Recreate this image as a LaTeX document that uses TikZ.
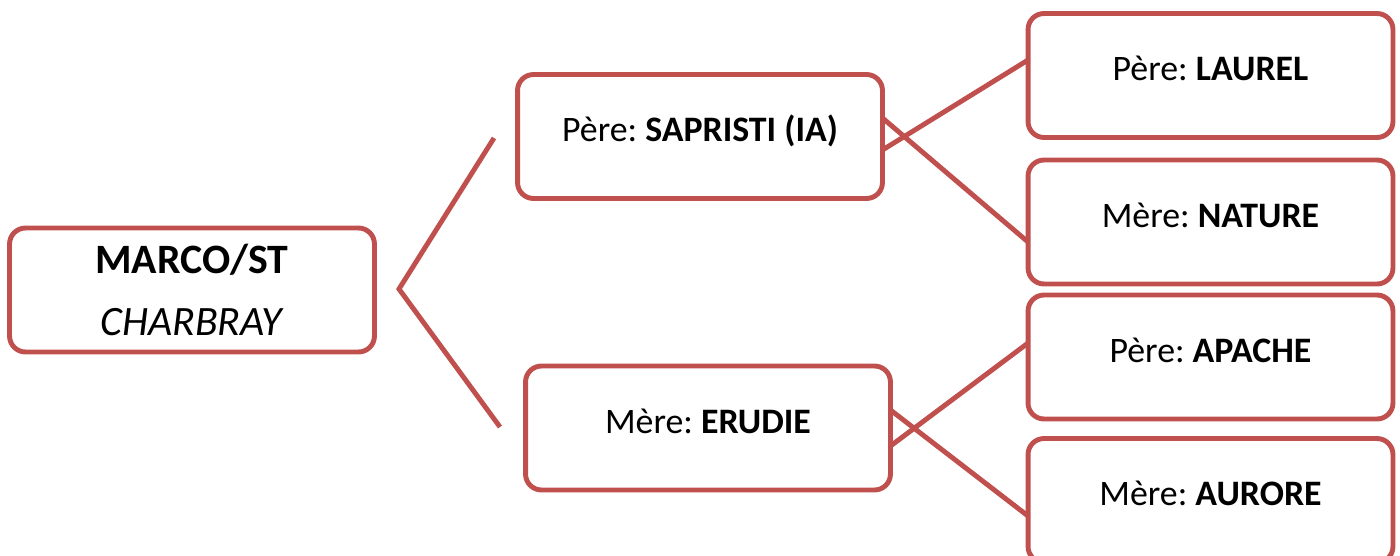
\documentclass[tikz,border=0pt]{standalone}
\usepackage{fontspec}
\setmainfont{Carlito}
\frenchspacing
\definecolor{pedigree}{HTML}{C0504D}

\begin{document}
\begin{tikzpicture}[x=0.02cm,y=-0.02cm,
  box/.style={draw=pedigree,line width=2.8pt,rounded corners=0.32cm,
    minimum width=7.3cm,minimum height=2.48cm,inner sep=0pt,outer sep=0pt},
  horse/.style={box,font=\fontsize{20.4}{24}\selectfont,
    text height=0.46cm,text depth=0.26cm},
  link/.style={draw=pedigree,line width=2.8pt}]
\useasboundingbox (0,0) rectangle (1400,555);
\node[box,align=center,font=\fontsize{23.8}{35}\selectfont] (marco) at (192,290) {\textbf{MARCO/ST}\\\textit{CHARBRAY}} ;
\node[horse] (sapristi) at (700,136.5) {Père: \textbf{SAPRISTI (IA)}} ;
\node[horse] (erudie) at (708,428) {Mère: \textbf{ERUDIE}} ;
\node[horse] (laurel) at (1210.5,75.5) {Père: \textbf{LAUREL}} ;
\node[horse] (nature) at (1210.5,222) {Mère: \textbf{NATURE}} ;
\node[horse] (apache) at (1210.5,357) {Père: \textbf{APACHE}} ;
\node[horse] (aurore) at (1210.5,500.5) {Mère: \textbf{AURORE}} ;
\coordinate (fork) at (399,289) ;
\coordinate (forkup) at (494,138) ;
\coordinate (forkdown) at (500,427) ;
\draw[link] (forkup) -- (fork) -- (forkdown) ;
\draw[link] ([yshift=0.37cm]sapristi.east) to ([yshift=-0.4cm]nature.west) ;
\draw[link] ([yshift=-0.27cm]sapristi.east) to ([yshift=0.31cm]laurel.west) ;
\draw[link] ([yshift=0.36cm]erudie.east) to ([yshift=-0.31cm]aurore.west) ;
\draw[link] ([yshift=-0.36cm]erudie.east) to ([yshift=0.28cm]apache.west) ;
\end{tikzpicture}
\end{document}
